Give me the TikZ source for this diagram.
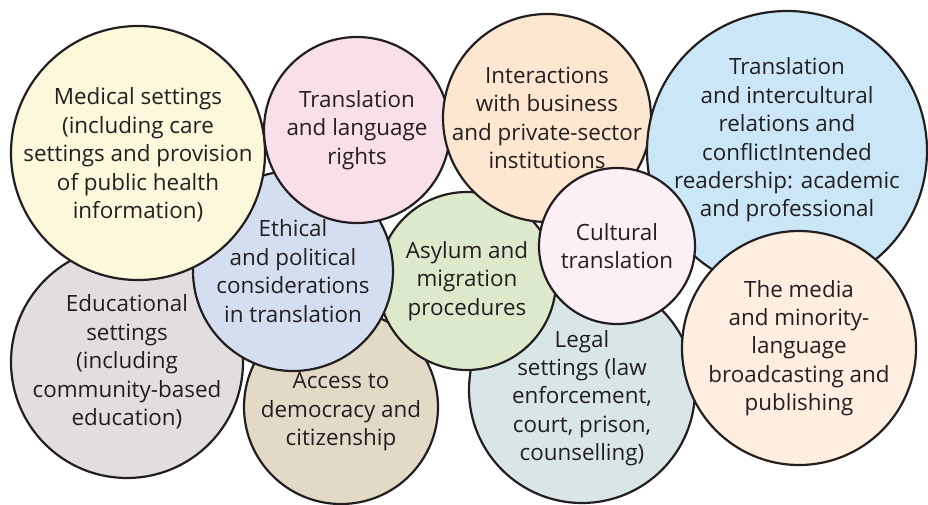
\documentclass[tikz,border=0pt]{standalone}
\usepackage{fontspec}
\setmainfont{Open Sans}
\usepackage{xcolor}
\usetikzlibrary{positioning}

\definecolor{outline}{HTML}{231F20}
\definecolor{medfill}{HTML}{FCF8DC}
\definecolor{rightsfill}{HTML}{F9DFEA}
\definecolor{busfill}{HTML}{FDE7D0}
\definecolor{interfill}{HTML}{CBE7F7}
\definecolor{cultfill}{HTML}{FCF0F6}
\definecolor{mediafill}{HTML}{FDEEE0}
\definecolor{legalfill}{HTML}{D8E6E8}
\definecolor{asylfill}{HTML}{DCE9CB}
\definecolor{ethfill}{HTML}{D3DEF0}
\definecolor{edufill}{HTML}{E2DEDF}
\definecolor{accfill}{HTML}{E2D9C6}

\begin{document}
\begin{tikzpicture}[x=1pt,y=-1pt,
    bubble/.style={circle,draw=outline,line width=2.2pt,inner sep=0pt},
    topic/.style={align=center,text=outline,font=\fontsize{22.4}{28.4}\selectfont}]
  \useasboundingbox (0,0) rectangle (928,505);

  % circles, back to front
  \node[bubble,fill=edufill,minimum size=232pt] (edu) at (127,362) {};
  \node[bubble,fill=accfill,minimum size=194pt] (acc) at (341,407) {};
  \node[bubble,fill=legalfill,minimum size=226pt] (legal) at (582,390) {};
  \node[bubble,fill=asylfill,minimum size=178pt] (asyl) at (467,281) {};
  \node[bubble,fill=ethfill,minimum size=200pt] (eth) at (293,271) {};
  \node[bubble,fill=medfill,minimum size=254pt] (med) at (138,153) {};
  \node[bubble,fill=rightsfill,minimum size=186pt] (rights) at (357,130) {};
  \node[bubble,fill=busfill,minimum size=208pt] (bus) at (547,118) {};
  \node[bubble,fill=interfill,minimum size=280pt] (inter) at (787,151) {};
  \node[bubble,fill=mediafill,minimum size=234pt] (media) at (799,348) {};
  \node[bubble,fill=cultfill,minimum size=156pt] (cult) at (617,246) {};

  % labels on top
  \node[topic] at (edu) {Educational\\settings\\(including\\community-based\\education)};
  \node[topic] at ([yshift=-5pt]acc) {Access to\\democracy and\\citizenship};
  \node[topic] at ([yshift=-8pt]legal) {Legal\\settings (law\\enforcement,\\court, prison,\\counselling)};
  \node[topic] at (asyl) {Asylum and\\migration\\procedures};
  \node[topic] at (eth) {Ethical\\and political\\considerations\\in translation};
  \node[topic] at ([yshift=-2pt]med) {Medical settings\\(including care\\settings and provision\\of public health\\information)};
  \node[topic] at (rights) {Translation\\and language\\rights};
  \node[topic] at (bus) {Interactions\\with business\\and private-sector\\institutions};
  \node[topic] at ([yshift=11pt]inter) {Translation\\and intercultural\\relations and\\conflictIntended\\readership: academic\\and professional};
  \node[topic] at (media) {The media\\and minority-\\language\\broadcasting and\\publishing};
  \node[topic] at (cult) {Cultural\\translation};
\end{tikzpicture}
\end{document}
